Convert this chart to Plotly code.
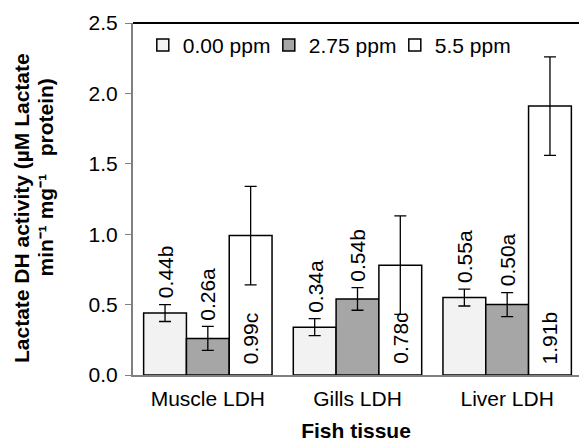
import plotly.graph_objects as go

tissues = ["Muscle LDH", "Gills LDH", "Liver LDH"]
series_names = ["0.00 ppm", "2.75 ppm", "5.5 ppm"]
vals_000 = [0.44, 0.34, 0.55]
errs_000 = [0.06, 0.06, 0.06]
labels_000 = ["0.44b", "0.34a", "0.55a"]
vals_275 = [0.26, 0.54, 0.50]
errs_275 = [0.085, 0.08, 0.085]
labels_275 = ["0.26a", "0.54b", "0.50a"]
vals_550 = [0.99, 0.78, 1.91]
errs_550 = [0.35, 0.35, 0.35]
labels_550 = ["0.99c", "0.78c", "1.91b"]
colors = ["#f2f2f2", "#a6a6a6", "#ffffff"]
yticks = [0.0, 0.5, 1.0, 1.5, 2.0, 2.5]
ytitle_lines = ["Lactate DH activity (µM Lactate", "min⁻¹ mg⁻¹\u00a0\u00a0\u00a0protein)"]

FONT = "Arial, Liberation Sans, sans-serif"
FS = 21
bargap = 0.142

fig = go.Figure()
all_vals = [vals_000, vals_275, vals_550]
all_errs = [errs_000, errs_275, errs_550]
all_labels = [labels_000, labels_275, labels_550]

for k in range(3):
    fig.add_trace(go.Bar(
        x=list(range(len(tissues))), y=all_vals[k], name=series_names[k],
        marker=dict(color=colors[k], line=dict(color="black", width=1.5)),
        error_y=dict(type="data", array=all_errs[k], color="black", thickness=1.3, width=6),
        cliponaxis=False,
    ))

# value labels: first two series above error bars, third inside bar at base
bw = (1 - bargap) / 3
for k in range(3):
    off = (k - 1) * bw
    for i in range(3):
        if k < 2:
            ypos = all_vals[k][i] + all_errs[k][i]
            ysh = 4
        else:
            ypos = 0
            ysh = 9
        fig.add_annotation(
            x=i + off, y=ypos, xref="x", yref="y",
            text=all_labels[k][i], textangle=-90, showarrow=False,
            xanchor="center", yanchor="bottom", yshift=ysh,
            font=dict(family=FONT, size=FS, color="black"))

# y-axis title (two bold rotated lines)
for txt, xp, yp in zip(ytitle_lines, [-0.2511, -0.1951], [0.4744, 0.5611]):
    fig.add_annotation(
        x=xp, y=yp, xref="paper", yref="paper", text="<b>" + txt + "</b>",
        textangle=-90, showarrow=False, xanchor="center", yanchor="middle",
        font=dict(family=FONT, size=21, color="black"))

# top frame line
fig.add_shape(type="line", xref="paper", yref="paper", x0=0, x1=1, y0=1, y1=1,
              line=dict(color="black", width=2))

fig.update_layout(
    width=579, height=442,
    margin=dict(l=133, r=0, t=23, b=67),
    paper_bgcolor="white", plot_bgcolor="white",
    barmode="group", bargap=bargap, bargroupgap=0,
    font=dict(family=FONT, size=FS, color="black"),
    showlegend=True,
    legend=dict(orientation="h", x=0.022, y=0.995, xanchor="left", yanchor="top",
                bgcolor="rgba(0,0,0,0)", font=dict(family=FONT, size=FS),
                itemwidth=30, tracegroupgap=0, entrywidth=81),
    xaxis=dict(
        range=[-0.5, 2.48],
        tickvals=list(range(len(tissues))), ticktext=tissues,
        showline=True, linecolor="#808080", linewidth=2, ticks="",
        showgrid=False, zeroline=False,
        ticklabelstandoff=4,
        title=dict(text="<b>Fish tissue</b>", font=dict(family=FONT, size=FS), standoff=16),
        tickfont=dict(family=FONT, size=FS),
    ),
    yaxis=dict(
        range=[0, 2.5], tickvals=yticks, tickformat=".1f",
        showline=True, linecolor="#808080", linewidth=2,
        ticks="outside", ticklen=6, tickcolor="#808080", tickwidth=1,
        showgrid=False, zeroline=False,
        ticklabelstandoff=3,
        tickfont=dict(family=FONT, size=FS),
    ),
)

fig.write_html("out.html", config={"displayModeBar": False},
               post_script="document.body.style.margin='0';")
